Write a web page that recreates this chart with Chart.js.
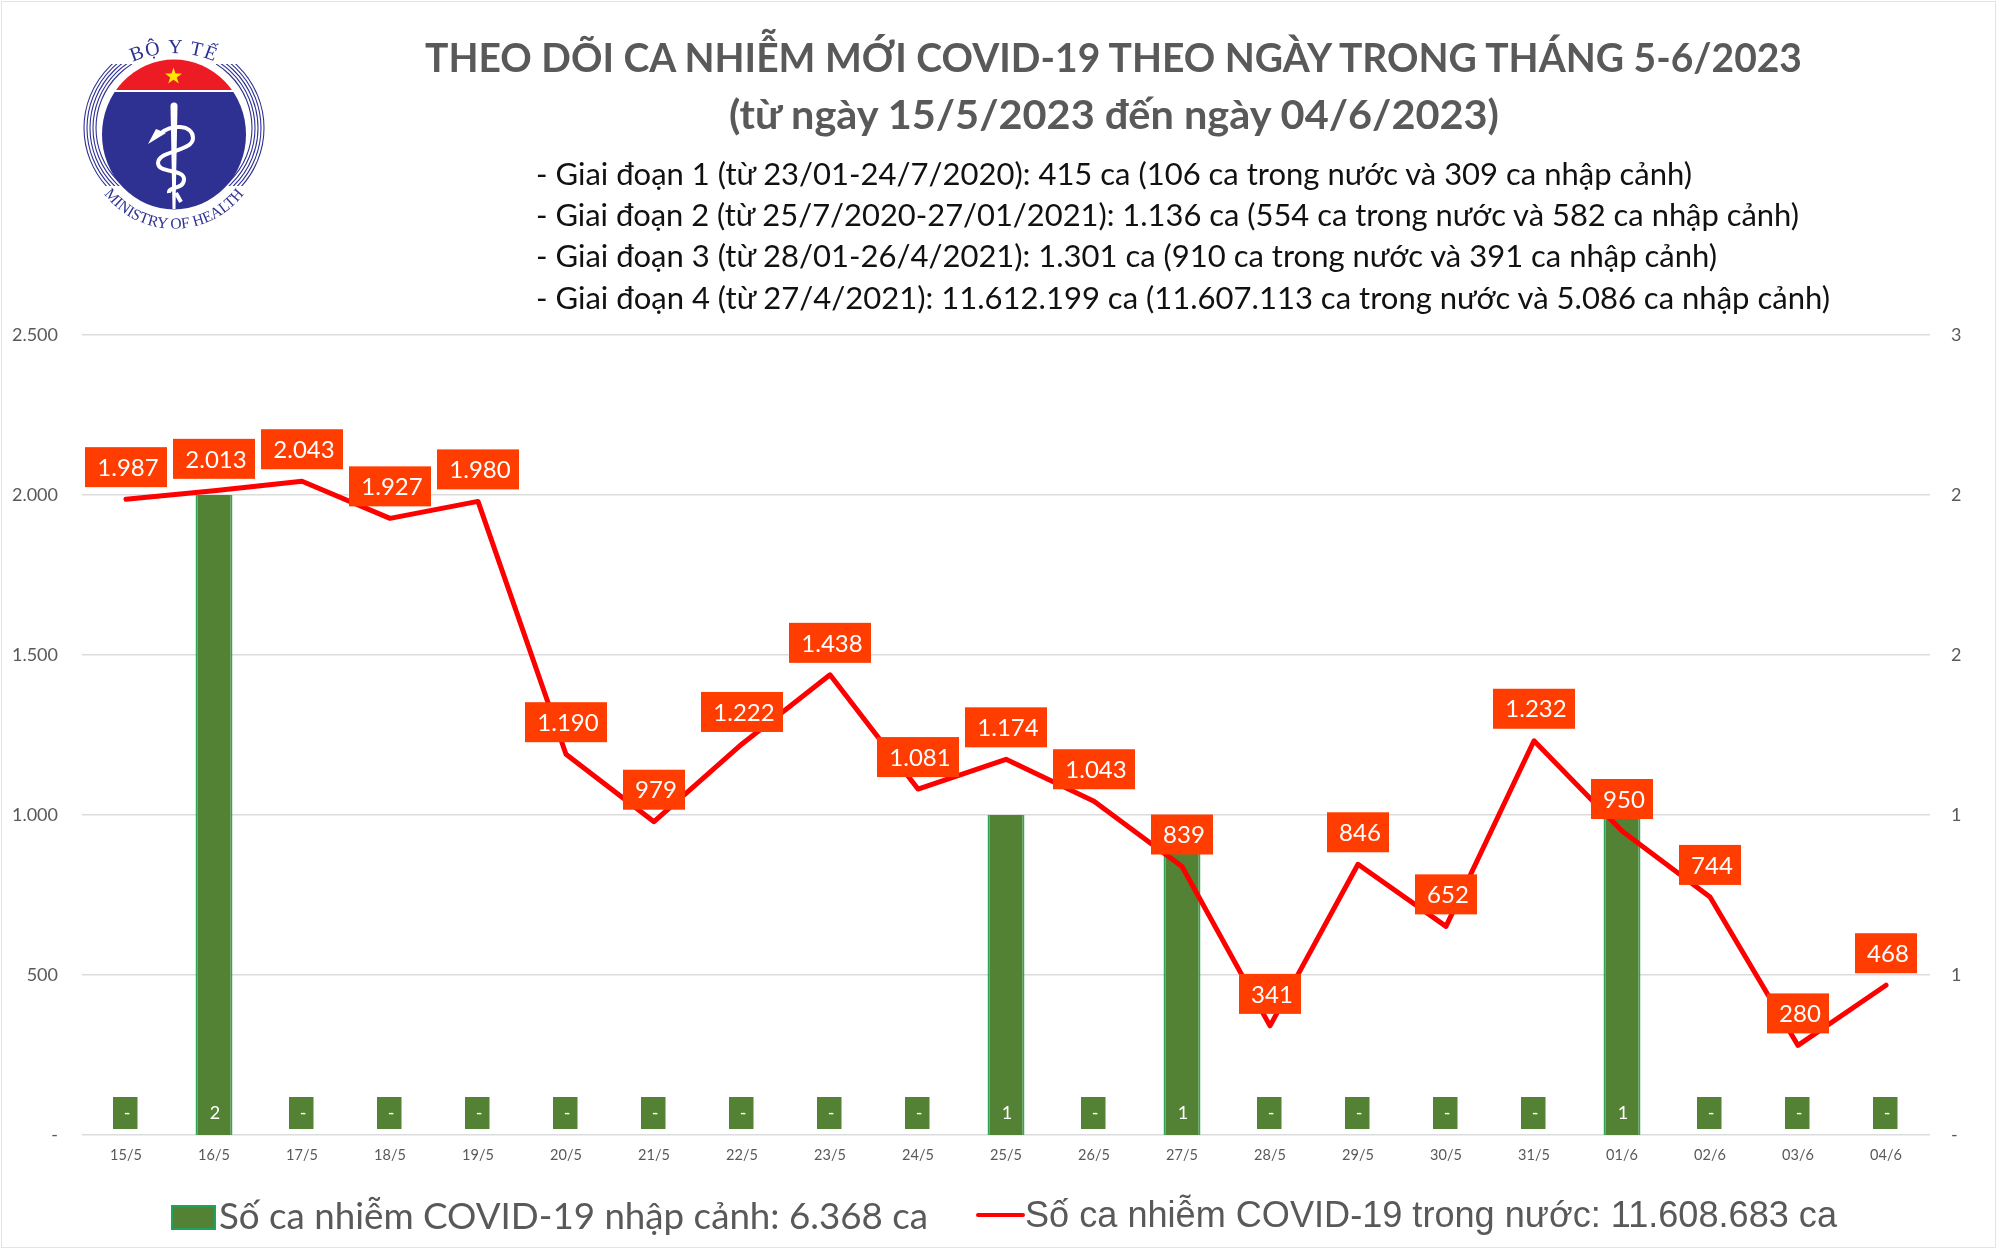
<!DOCTYPE html>
<html lang="vi"><head><meta charset="utf-8">
<script src="https://cdn.jsdelivr.net/npm/chart.js@4/dist/chart.umd.min.js"></script>
<style>
html,body{margin:0;padding:0;background:#fff;width:2000px;height:1254px;overflow:hidden}
#frame{position:absolute;left:1px;top:1px;width:1993px;height:1245px;border:1.5px solid #e4e4e4}
#c{position:absolute;left:0;top:0}
.t{position:absolute;white-space:nowrap;transform-origin:0 50%;font-family:Lato,"Noto Sans",sans-serif;line-height:1}
#logo{position:absolute;left:70px;top:30px}
</style></head><body>
<canvas id="c" width="2000" height="1254"></canvas>
<div id="frame"></div>
<svg id="logo" width="210" height="210" viewBox="70 30 210 210" xmlns="http://www.w3.org/2000/svg">
<defs>
<clipPath id="blue"><rect x="90" y="92" width="170" height="130"/></clipPath>
<clipPath id="red"><rect x="90" y="50" width="170" height="40"/></clipPath>
<clipPath id="side"><path d="M70 64 H132 L132 186 H70Z M278 64 H216 L216 186 H278Z"/></clipPath>
<path id="arcT" d="M100 85 A102 102 0 0 1 248 85"/>
<path id="arcB" d="M98 185 A88 88 0 0 0 250 185"/>
</defs>
<g clip-path="url(#side)" fill="none" stroke="#2e3192" stroke-width="1.1">
<ellipse cx="174" cy="128" rx="78" ry="76"/><ellipse cx="174" cy="128" rx="81" ry="79"/>
<ellipse cx="174" cy="128" rx="84" ry="82"/><ellipse cx="174" cy="128" rx="87" ry="85"/><ellipse cx="174" cy="128" rx="90" ry="88"/>
</g>
<ellipse cx="174" cy="134.5" rx="72" ry="75" fill="#ed1c24" clip-path="url(#red)"/>
<ellipse cx="174" cy="134.5" rx="72" ry="75" fill="#2e3192" clip-path="url(#blue)"/>
<polygon points="173.5,67.5 175.5,73.5 182,73.5 176.8,77.5 178.8,83.5 173.5,79.8 168.2,83.5 170.2,77.5 165,73.5 171.5,73.5" fill="#ffe600"/>
<path d="M170.5 106 A3.5 3.5 0 0 1 177.5 106 L175.5 209 L172.5 209 Z" fill="#fff"/>
<path d="M160 134 C170 124 193 124 193 138 C193 152 158 150 158 163 C158 174 185 168 184 180 C183 190 168 186 169 193 M176 193 L181 202" fill="none" stroke="#fff" stroke-width="4"/>
<path d="M148 144 L156 129 L166 133 Z" fill="#fff"/>
<text font-family="Liberation Serif,serif" font-size="20" letter-spacing="1.5" fill="#2e3192"><textPath href="#arcT" startOffset="50%" text-anchor="middle">BỘ Y TẾ</textPath></text>
<text font-family="Liberation Serif,serif" font-size="15.5" fill="#2e3192"><textPath href="#arcB" startOffset="50%" text-anchor="middle">MINISTRY OF HEALTH</textPath></text>
</svg>

<div class="t" data-x="425" data-y="56" data-w="1377" style="font-size:41px;font-weight:700;color:#595959">THEO DÕI CA NHIỄM MỚI COVID-19 THEO NGÀY TRONG THÁNG 5-6/2023</div>
<div class="t" data-x="729" data-y="113" data-w="770" style="font-size:41px;font-weight:700;color:#595959">(từ ngày 15/5/2023 đến ngày 04/6/2023)</div>
<div class="t" data-x="536" data-y="173" data-w="1156" style="font-size:30px;color:#111">- Giai đoạn 1 (từ 23/01-24/7/2020): 415 ca (106 ca trong nước và 309 ca nhập cảnh)</div>
<div class="t" data-x="536" data-y="214" data-w="1263" style="font-size:30px;color:#111">- Giai đoạn 2 (từ 25/7/2020-27/01/2021): 1.136 ca (554 ca trong nước và 582 ca nhập cảnh)</div>
<div class="t" data-x="536" data-y="255" data-w="1181" style="font-size:30px;color:#111">- Giai đoạn 3 (từ 28/01-26/4/2021): 1.301 ca (910 ca trong nước và 391 ca nhập cảnh)</div>
<div class="t" data-x="536" data-y="297" data-w="1294" style="font-size:30px;color:#111">- Giai đoạn 4 (từ 27/4/2021): 11.612.199 ca (11.607.113 ca trong nước và 5.086 ca nhập cảnh)</div>

<div style="position:absolute;left:171px;top:1205px;width:41px;height:21px;background:#548235;border:2px solid #1fa35c"></div>
<div class="t" data-x="219" data-y="1215" data-w="709" style="font-size:36px;color:#595959">Số ca nhiễm COVID-19 nhập cảnh: 6.368 ca</div>
<div style="position:absolute;left:976px;top:1213px;width:49px;height:4px;background:#ff0000;border-radius:2px"></div>
<div class="t" data-x="1025" data-y="1215" data-w="812" style="font-size:36px;color:#595959;font-family:'Liberation Sans',Arial,sans-serif">Số ca nhiễm COVID-19 trong nước: 11.608.683 ca</div>

<script>
const days = ["15/5","16/5","17/5","18/5","19/5","20/5","21/5","22/5","23/5","24/5","25/5","26/5","27/5","28/5","29/5","30/5","31/5","01/6","02/6","03/6","04/6"];
const domesticCases = [1987,2013,2043,1927,1980,1190,979,1222,1438,1081,1174,1043,839,341,846,652,1232,950,744,280,468];
const importedCases = [0,2,0,0,0,0,0,0,0,0,1,0,1,0,0,0,0,1,0,0,0];
const leftTicksMax = 2500;
const rightTicksMax = 2.5;

const fmt = n => String(n).replace(/\B(?=(\d{3})+(?!\d))/g,'.');
const FONT = 'Lato, "Noto Sans", sans-serif';

const labelPlugin = {
  id:'boxLabels',
  afterDatasetsDraw(chart){
    const {ctx} = chart;
    const barMeta = chart.getDatasetMeta(1), lineMeta = chart.getDatasetMeta(0);
    const base = chart.scales.y1.getPixelForValue(0);
    ctx.save();
    ctx.textAlign='center'; ctx.textBaseline='middle';
    barMeta.data.forEach((el,i)=>{
      const v = importedCases[i];
      ctx.fillStyle = '#548235';
      ctx.fillRect(el.x-13, base-38, 24.5, 32);
      ctx.fillStyle = '#fff';
      ctx.font = '18px '+FONT;
      ctx.fillText(v===0?'-':String(v), el.x+1, base-22);
    });
    ctx.font = '24px '+FONT;
    lineMeta.data.forEach((pt,i)=>{
      const s = fmt(domesticCases[i]);
      const w = s.length>3 ? 82 : 62, h = 40;
      const cx = pt.x, cy = pt.y-32;
      ctx.fillStyle = '#ff3d00';
      ctx.fillRect(cx-w/2, cy-h/2, w, h);
      ctx.fillStyle = '#fff';
      ctx.fillText(s, cx+2, cy+1);
    });
    ctx.restore();
  }
};

new Chart(document.getElementById('c'),{
  data:{
    labels:days,
    datasets:[
      {type:'line',label:'Số ca nhiễm COVID-19 trong nước',data:domesticCases,yAxisID:'y',borderColor:'#ff0000',borderWidth:5,pointRadius:0,tension:0,order:1,borderJoinStyle:'round',borderCapStyle:'round'},
      {type:'bar',label:'Số ca nhiễm COVID-19 nhập cảnh',data:importedCases,yAxisID:'y1',backgroundColor:'#548235',borderColor:'#2ea55a',borderWidth:{left:2,right:2,top:0,bottom:0},barPercentage:0.42,categoryPercentage:1,order:2}
    ]
  },
  plugins:[labelPlugin],
  options:{
    responsive:false,animation:false,
    devicePixelRatio:1,
    layout:{padding:{top:335,left:0,right:0,bottom:0}},
    plugins:{legend:{display:false},title:{display:false},tooltip:{enabled:false}},
    scales:{
      x:{grid:{display:false},border:{display:false},
         afterFit(s){s.height=119;},
         ticks:{color:'#595959',font:{family:FONT,size:14.5},padding:4,maxRotation:0,autoSkip:false}},
      y:{position:'left',min:0,max:leftTicksMax,
         afterFit(s){s.width=82;},
         grid:{color:'#dcdcdc',lineWidth:1.5,drawTicks:false},border:{display:false},
         ticks:{stepSize:500,padding:24,color:'#595959',font:{family:FONT,size:18},callback:v=>v===0?'-':fmt(v)}},
      y1:{position:'right',min:0,max:rightTicksMax,
         afterFit(s){s.width=70;},
         grid:{display:false,drawTicks:false},border:{display:false},
         ticks:{stepSize:0.5,padding:21,color:'#595959',font:{family:FONT,size:18},callback:v=>v===0?'-':String(Math.round(v))}}
    }
  }
});

document.querySelectorAll('.t').forEach(el=>{
  const r = el.getBoundingClientRect();
  const k = (+el.dataset.w)/r.width;
  el.style.left = el.dataset.x+'px';
  el.style.top = (+el.dataset.y - r.height/2)+'px';
  el.style.transform = 'scaleX('+k+')';
});
</script>
</body></html>
